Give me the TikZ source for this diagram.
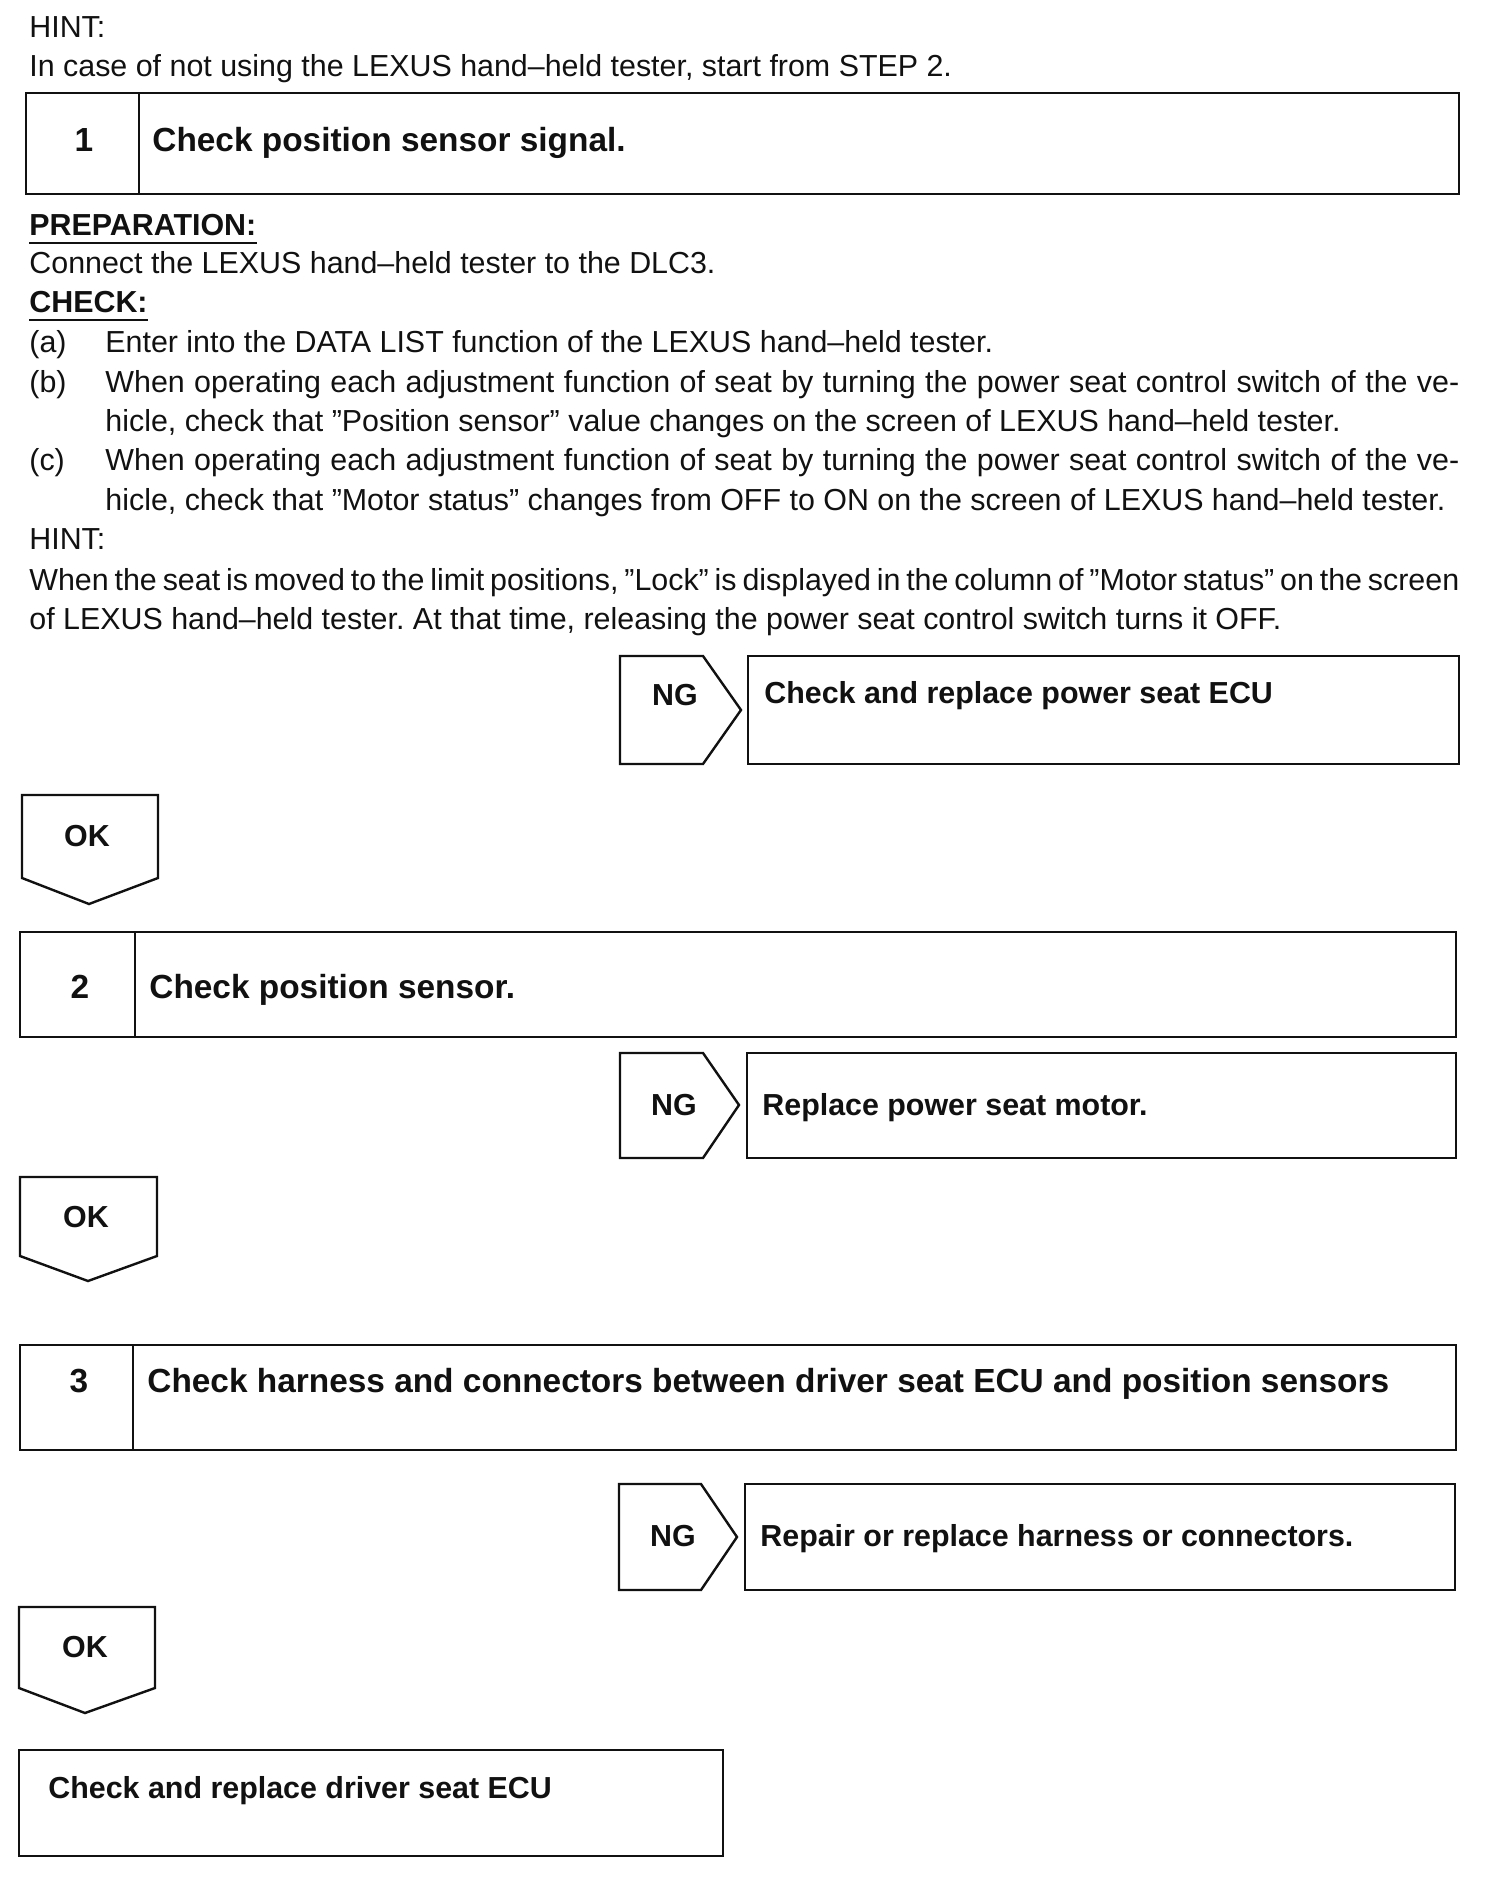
\documentclass[tikz,border=0pt]{standalone}
\usepackage{fontspec}
\setmainfont{Liberation Sans}
\usetikzlibrary{fit}
\frenchspacing
\definecolor{lxInk}{HTML}{111111}
\tikzset{
  bodytext/.style={anchor=base west, inner sep=0pt, text=lxInk,
    font=\fontsize{15.2}{19}\selectfont},
  headtext/.style={bodytext, font=\fontsize{15.2}{19}\selectfont\bfseries},
  steptext/.style={anchor=base west, inner sep=0pt, text=lxInk,
    font=\fontsize{16.7}{20}\selectfont\bfseries},
  stepnum/.style={steptext, anchor=base},
  resulttext/.style={headtext},
  tagtext/.style={headtext, anchor=base},
  boxline/.style={draw=lxInk, line width=1.2pt, line join=miter},
  stepbox/.style={boxline, inner sep=0pt},
  underline/.style={draw=lxInk, line width=1pt}
}
\begin{document}
\begin{tikzpicture}[x=0.5pt, y=-0.5pt]
  \useasboundingbox (0,0) rectangle (1504,1878);
  % hint on top
  \node[bodytext] (hinttop) at (29,38) {HINT:};
  \node[bodytext] (hinttoptxt) at (29,77) {In case of not using the LEXUS hand--held tester, start from STEP 2.};

  % step 1
  \node[stepbox, fit={(26,93) (1459,194)}] (box1) {};
  \draw[boxline] (139,93) -- (139,194);
  \node[stepnum] (num1) at (84,152) {1};
  \node[steptext] (title1) at (152,152) {Check position sensor signal.};

  \node[headtext] (prep) at (29,235) {PREPARATION:};
  \draw[underline] ([yshift=-4pt]prep.base west) -- ([yshift=-4pt]prep.base east);
  \node[bodytext] (preptxt) at (29,273) {Connect the LEXUS hand--held tester to the DLC3.};
  \node[headtext] (check) at (29,312) {CHECK:};
  \draw[underline] ([yshift=-4pt]check.base west) -- ([yshift=-4pt]check.base east);
  \node[bodytext] (itema) at (29,352) {(a)};
  \node[bodytext] (itematxt) at (105,352) {Enter into the DATA LIST function of the LEXUS hand--held tester.};
  \node[bodytext] (itemb) at (29,392) {(b)};
  \node[bodytext] (itembtxt) at (105,392) {\makebox[677pt][s]{When operating each adjustment function of seat by turning the power seat control switch of the ve-}};
  \node[bodytext] (itembtwo) at (105,431) {hicle, check that ”Position sensor” value changes on the screen of LEXUS hand--held tester.};
  \node[bodytext] (itemc) at (29,470) {(c)};
  \node[bodytext] (itemctxt) at (105,470) {\makebox[677pt][s]{When operating each adjustment function of seat by turning the power seat control switch of the ve-}};
  \node[bodytext] (itemctwo) at (105,510) {hicle, check that ”Motor status” changes from OFF to ON on the screen of LEXUS hand--held tester.};
  \node[bodytext] (hintmid) at (29,549) {HINT:};
  \node[bodytext] (hintmidtxt) at (29,590) {\makebox[715pt][s]{When the seat is moved to the limit positions, ”Lock” is displayed in the column of ”Motor status” on the screen}};
  \node[bodytext] (hintmidtwo) at (29,629) {of LEXUS hand--held tester. At that time, releasing the power seat control switch turns it OFF.};

  % NG 1
  \draw[boxline] (620,656) -- (703,656) -- (741,710) -- (703,764) -- (620,764) -- cycle;
  \node[tagtext] (ng1) at (675,705) {NG};
  \node[stepbox, fit={(748,656) (1459,764)}] (res1) {};
  \node[resulttext] (res1txt) at (764,703) {Check and replace power seat ECU};

  % OK 1
  \draw[boxline] (22,795) -- (158,795) -- (158,878) -- (89,904) -- (22,878) -- cycle;
  \node[tagtext] (ok1) at (87,846) {OK};

  % step 2
  \node[stepbox, fit={(20,932) (1456,1037)}] (box2) {};
  \draw[boxline] (135,932) -- (135,1037);
  \node[stepnum] (num2) at (80,998) {2};
  \node[steptext] (title2) at (149,998) {Check position sensor.};

  % NG 2
  \draw[boxline] (620,1053) -- (703,1053) -- (739,1105) -- (703,1158) -- (620,1158) -- cycle;
  \node[tagtext] (ng2) at (674,1115) {NG};
  \node[stepbox, fit={(747,1053) (1456,1158)}] (res2) {};
  \node[resulttext] (res2txt) at (762,1115) {Replace power seat motor.};

  % OK 2
  \draw[boxline] (20,1177) -- (157,1177) -- (157,1256) -- (88,1281) -- (20,1256) -- cycle;
  \node[tagtext] (ok2) at (86,1227) {OK};

  % step 3
  \node[stepbox, fit={(20,1345) (1456,1450)}] (box3) {};
  \draw[boxline] (133,1345) -- (133,1450);
  \node[stepnum] (num3) at (79,1392) {3};
  \node[steptext] (title3) at (147,1392) {Check harness and connectors between driver seat ECU and position sensors};

  % NG 3
  \draw[boxline] (619,1484) -- (701,1484) -- (737,1537) -- (701,1590) -- (619,1590) -- cycle;
  \node[tagtext] (ng3) at (673,1546) {NG};
  \node[stepbox, fit={(745,1484) (1455,1590)}] (res3) {};
  \node[resulttext] (res3txt) at (760,1546) {Repair or replace harness or connectors.};

  % OK 3
  \draw[boxline] (19,1607) -- (155,1607) -- (155,1688) -- (85,1713) -- (19,1688) -- cycle;
  \node[tagtext] (ok3) at (85,1657) {OK};

  % last step
  \node[stepbox, fit={(19,1750) (723,1856)}] (final) {};
  \node[resulttext] (finaltxt) at (48,1798) {Check and replace driver seat ECU};
\end{tikzpicture}
\end{document}
